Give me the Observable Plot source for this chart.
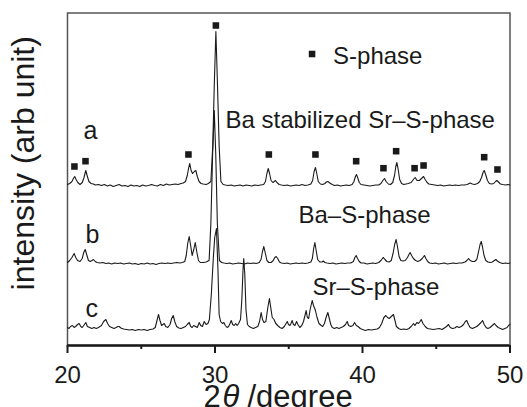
<!DOCTYPE html>
<html><head><meta charset="utf-8">
<script src="https://cdn.jsdelivr.net/npm/d3@7"></script>
<script src="https://cdn.jsdelivr.net/npm/@observablehq/plot@0.6"></script>
<style>
body{margin:0;background:#fff}
svg{display:block}
g[aria-label="phase-label"] text{letter-spacing:0.5px}
</style>
</head><body><div id="chart"></div>
<script>
// [2theta, intensity above the trace baseline]
const traceA = [
[20.0,1],[20.15,2],[20.3,4],[20.4,7],[20.49,9],[20.58,6],[20.7,3],[20.85,1],[21.0,3],[21.12,8],[21.24,15],[21.33,10],[21.45,4],[21.6,2],[21.75,1.5],[21.9,0.5],[22.1,1],[22.3,0],[22.5,1],[22.7,-0.5],[22.9,0.5],[23.1,-1],[23.3,0],[23.5,1],[23.7,-0.5],[23.9,0],[24.1,-1],[24.3,0.5],[24.5,-0.5],[24.7,0],[24.9,-1],[25.1,0.5],[25.3,-0.5],[25.5,0],[25.7,1],[25.9,0],[26.1,-0.5],[26.3,1],[26.5,0],[26.7,1.5],[26.9,0.5],[27.1,1],[27.3,1.5],[27.5,1],[27.7,2],[27.85,2.5],[28.0,4],[28.12,10],[28.22,18],[28.29,22],[28.38,15],[28.48,12],[28.6,14],[28.7,15],[28.8,9],[28.92,4],[29.05,2],[29.2,1.5],[29.4,1],[29.55,2],[29.72,4],[29.85,40],[29.95,100],[30.06,154],[30.17,100],[30.28,40],[30.4,4],[30.55,1],[30.7,0.5],[30.9,0],[31.1,0.5],[31.3,-0.5],[31.5,0],[31.7,0.5],[31.9,-0.5],[32.1,0.5],[32.3,0],[32.5,-0.5],[32.7,0.5],[32.9,0],[33.1,0.5],[33.3,1],[33.42,4],[33.52,12],[33.61,17],[33.7,12],[33.8,5],[33.92,3],[34.02,4],[34.1,5],[34.2,3],[34.35,1],[34.5,0.5],[34.7,0],[34.9,0.5],[35.1,-0.5],[35.3,0],[35.5,0.5],[35.7,0],[35.9,1],[36.1,0],[36.3,0.5],[36.5,1.5],[36.62,5],[36.72,14],[36.81,18],[36.9,12],[37.0,4],[37.15,1.5],[37.3,1],[37.45,2],[37.55,3.5],[37.65,4],[37.78,2.5],[37.95,1],[38.1,0],[38.3,0.5],[38.5,-0.5],[38.7,0],[38.9,0.5],[39.1,0],[39.3,1],[39.42,4],[39.52,9],[39.59,11],[39.67,8],[39.78,3],[39.9,1],[40.1,0.5],[40.3,0],[40.5,-0.5],[40.7,0],[40.9,0.5],[41.1,0.5],[41.25,2],[41.38,5],[41.49,7],[41.6,4],[41.75,1.5],[41.9,1],[42.05,3],[42.17,10],[42.26,19],[42.33,23],[42.42,16],[42.52,6],[42.65,2],[42.8,1],[42.95,1.5],[43.1,2],[43.3,3],[43.45,6],[43.57,8],[43.7,5],[43.85,5],[44.0,7],[44.14,9],[44.25,6],[44.38,3],[44.5,1.5],[44.7,1],[44.9,0.5],[45.1,0],[45.3,0.5],[45.5,-0.5],[45.7,0],[45.9,0.5],[46.1,0],[46.3,0.5],[46.5,0],[46.7,0.5],[46.9,0.5],[47.1,1],[47.3,2.5],[47.45,1.5],[47.6,1],[47.8,2],[47.95,4],[48.07,8],[48.17,13],[48.25,15],[48.35,11],[48.47,5],[48.6,2],[48.75,1.5],[48.9,2],[49.02,4],[49.11,5],[49.22,3.5],[49.35,1.5],[49.5,1],[49.7,0.5],[49.85,1],[50.0,0.5]
];
const traceB = [
[20.0,1],[20.15,3],[20.3,6],[20.45,10],[20.56,6],[20.68,3],[20.85,2],[21.0,5],[21.1,11],[21.2,14],[21.3,9],[21.42,3],[21.55,2],[21.66,3],[21.76,4],[21.88,2],[22.0,1],[22.2,0.5],[22.4,1],[22.6,0],[22.8,0.5],[23.0,-0.5],[23.2,0.5],[23.4,0],[23.6,0.5],[23.8,-0.5],[24.0,0],[24.2,0.5],[24.4,-0.5],[24.6,0],[24.8,-1],[25.0,0],[25.2,-0.5],[25.4,0.5],[25.6,-0.5],[25.8,0],[26.0,-1],[26.2,0],[26.4,0.5],[26.6,0],[26.8,0.5],[27.0,0],[27.2,0.5],[27.4,1],[27.6,0.5],[27.8,1],[27.95,2],[28.05,8],[28.15,20],[28.25,27],[28.35,18],[28.45,8],[28.56,14],[28.66,21],[28.76,12],[28.88,3],[29.0,1],[29.2,1],[29.4,1.5],[29.6,3],[29.72,40],[29.84,110],[29.95,153],[30.05,110],[30.16,40],[30.3,3],[30.45,1],[30.6,0.5],[30.8,0],[31.0,0.5],[31.2,-0.5],[31.4,0],[31.6,0.5],[31.8,0],[32.0,-0.5],[32.2,0.5],[32.4,0],[32.6,0.5],[32.8,0],[33.0,1],[33.12,4],[33.22,12],[33.31,17],[33.4,11],[33.52,3],[33.65,1],[33.8,1],[33.95,3],[34.05,6],[34.15,7],[34.25,5],[34.37,1.5],[34.5,0.5],[34.7,0],[34.9,0.5],[35.1,-0.5],[35.3,0],[35.5,0.5],[35.7,0],[35.9,0.5],[36.1,0],[36.3,0.5],[36.5,1.5],[36.6,5],[36.69,15],[36.77,21],[36.86,13],[36.96,4],[37.1,1.5],[37.25,1.5],[37.34,2.5],[37.45,1],[37.6,0.5],[37.8,0],[38.0,0.5],[38.2,-0.5],[38.4,0],[38.6,0.5],[38.8,0],[39.0,0.5],[39.2,0.5],[39.38,2],[39.48,6],[39.57,8],[39.66,5],[39.78,2],[39.9,0.5],[40.1,0.5],[40.3,-0.5],[40.5,0],[40.7,0.5],[40.9,0],[41.1,1],[41.25,3],[41.35,5],[41.42,6],[41.52,4],[41.65,2],[41.8,1.5],[41.95,3],[42.07,10],[42.18,19],[42.28,24],[42.37,17],[42.48,7],[42.6,3],[42.75,2.5],[42.9,3],[43.05,6],[43.15,9],[43.23,11],[43.33,8],[43.45,5],[43.6,3],[43.75,2],[43.9,3],[44.05,5],[44.2,8],[44.3,5],[44.42,2],[44.55,0.5],[44.75,0],[44.95,0.5],[45.15,-0.5],[45.35,0],[45.55,0.5],[45.75,-0.5],[45.95,0],[46.15,0.5],[46.35,0],[46.55,0.5],[46.75,0.5],[46.95,1.5],[47.08,3],[47.19,5],[47.3,3],[47.45,2],[47.6,2],[47.75,4],[47.87,12],[47.97,19],[48.05,22],[48.13,17],[48.24,8],[48.36,3],[48.5,1.5],[48.65,1],[48.8,1.5],[48.94,3],[49.04,4],[49.15,2.5],[49.3,1],[49.5,0],[49.7,0.5],[49.85,0],[50.0,0.5]
];
const traceC = [
[20.0,2],[20.1,1],[20.2,3],[20.34,4],[20.45,2],[20.55,3],[20.68,5],[20.79,6],[20.9,3],[21.0,2],[21.1,4],[21.24,7],[21.35,3],[21.5,2],[21.65,1],[21.8,2],[21.95,1],[22.1,2],[22.3,4],[22.45,8],[22.6,10],[22.72,6],[22.85,3],[23.0,2],[23.15,1],[23.3,2],[23.42,3],[23.5,3],[23.62,1.5],[23.8,0.5],[24.0,0],[24.2,-0.5],[24.4,0],[24.6,-1],[24.8,0],[25.0,-0.5],[25.2,0],[25.4,-1],[25.6,0],[25.8,0.5],[25.95,2],[26.05,8],[26.17,15],[26.27,9],[26.38,4],[26.47,5],[26.56,6],[26.66,3],[26.8,2],[26.95,5],[27.06,11],[27.17,14],[27.27,8],[27.4,3],[27.55,1.5],[27.7,1],[27.85,2],[28.0,3],[28.12,5],[28.25,7],[28.35,3],[28.45,2],[28.55,4],[28.68,3],[28.8,2],[28.93,7],[29.03,4],[29.15,3],[29.27,8],[29.4,5],[29.52,6],[29.62,10],[29.75,35],[29.88,70],[29.98,92],[30.1,101],[30.2,60],[30.28,15],[30.38,8],[30.5,6],[30.6,7],[30.7,4],[30.82,2],[30.92,3],[31.02,6],[31.1,9],[31.2,5],[31.3,4],[31.4,6],[31.5,4],[31.6,6],[31.73,10],[31.82,30],[31.9,60],[31.95,71],[32.02,55],[32.1,20],[32.2,5],[32.32,3],[32.45,2],[32.6,1],[32.75,2],[32.9,3],[33.02,8],[33.13,17],[33.22,10],[33.32,7],[33.45,8],[33.58,22],[33.69,31],[33.78,22],[33.88,12],[34.0,10],[34.12,6],[34.25,4],[34.4,2],[34.55,1],[34.7,3],[34.82,6],[34.9,8],[34.98,5],[35.08,4],[35.15,6],[35.23,9],[35.32,5],[35.42,4],[35.53,8],[35.62,5],[35.75,2],[35.88,4],[36.0,8],[36.1,14],[36.18,19],[36.26,12],[36.35,11],[36.45,20],[36.59,29],[36.68,24],[36.81,19],[36.92,12],[37.05,6],[37.2,4],[37.3,3],[37.42,6],[37.53,12],[37.65,17],[37.75,11],[37.85,5],[37.95,2],[38.1,1],[38.25,2],[38.4,1],[38.55,2],[38.7,3],[38.85,5],[38.96,8],[39.06,4],[39.2,3],[39.35,4],[39.46,7],[39.58,4],[39.7,3],[39.85,1],[40.0,0],[40.2,-1],[40.4,0],[40.6,-0.5],[40.8,0],[41.0,0.5],[41.15,2],[41.3,6],[41.45,12],[41.58,14],[41.7,12],[41.81,11],[41.95,13],[42.1,15],[42.2,9],[42.3,3],[42.45,1],[42.6,0],[42.8,0.5],[43.0,0],[43.15,1],[43.3,3],[43.46,6],[43.56,4],[43.68,7],[43.8,6],[43.9,8],[43.98,10],[44.1,6],[44.25,3],[44.4,1],[44.6,0.5],[44.8,0],[45.0,0.5],[45.2,1],[45.4,0],[45.55,1.5],[45.7,3],[45.83,5],[45.95,2],[46.1,1],[46.25,1.5],[46.4,3],[46.55,2],[46.7,3],[46.85,5],[46.97,8],[47.07,9],[47.18,5],[47.3,2],[47.45,1],[47.6,2],[47.75,3],[47.9,5],[48.03,7],[48.14,9],[48.25,5],[48.38,2],[48.5,1],[48.65,2],[48.8,4],[48.95,6],[49.05,4],[49.2,2],[49.35,1],[49.5,0],[49.65,1],[49.8,2],[49.9,4],[50.0,5]
];
const traceNames = ["a", "b", "c"];
const traceOffsets = [160, 82, 16];
const phaseNames = ["Ba stabilized Sr\u2013S-phase", "Ba\u2013S-phase", "Sr\u2013S-phase"];

// S-phase markers on trace a
const squareTheta = [20.47, 21.22, 28.2, 30.06, 33.65, 36.81, 39.57, 41.42, 42.28, 43.53, 44.14, 48.25, 49.15];
const squareIntensity = [179, 184.3, 191, 320, 191, 191, 184.3, 177.3, 194.3, 177.3, 180, 188.3, 176];

const legendLabel = "S-phase";
const majorTicks = [20, 30, 40, 50];
const minorTicks = [25, 35, 45];

// annotation anchor points (2theta, intensity)
const traceLabelPos = [[21.08, 207], [21.22, 103], [21.22, 29]];
const phaseLabelPos = [[30.71, 217.7], [35.66, 123], [36.61, 51]];
const legendPos = [36.58, 291.5];

const lines = [traceA, traceB, traceC].map((t, i) => t.map(([th, v]) => ({theta: th, intensity: v + traceOffsets[i], trace: traceNames[i]})));
const squares = squareTheta.map((t, i) => ({theta: t, intensity: squareIntensity[i]}));
const traceLabels = traceNames.map((n, i) => ({theta: traceLabelPos[i][0], intensity: traceLabelPos[i][1], text: n}));
const phaseLabels = phaseNames.map((n, i) => ({theta: phaseLabelPos[i][0], intensity: phaseLabelPos[i][1], text: n}));

const font = "'Liberation Sans', Arial, Helvetica, sans-serif";
const ink = "#1a1a1a";

const chart = Plot.plot({
  width: 527, height: 407,
  marginLeft: 67, marginRight: 17.5, marginTop: 12.5, marginBottom: 62,
  x: {domain: [20, 50]},
  y: {domain: [0, 332.5], axis: null},
  style: {fontFamily: font, background: "#fff", color: ink},
  marks: [
    Plot.frame({stroke: "#555", strokeWidth: 1.5}),
    ...lines.map(L => Plot.line(L, {x: "theta", y: "intensity", stroke: ink, strokeWidth: 1.1})),
    Plot.ruleY([0], {stroke: ink, strokeWidth: 2.5}),
    Plot.axisX({ticks: majorTicks, tickSize: 8, tickPadding: 12, fontSize: 24, strokeWidth: 2, label: null, tickFormat: d => String(d)}),
    Plot.axisX({ticks: minorTicks, tickSize: 4, strokeWidth: 2, label: null, tickFormat: () => ""}),
    Plot.dot(squares, {x: "theta", y: "intensity", symbol: "square", r: 3.7, fill: ink, stroke: null}),
    Plot.dot([legendPos], {x: d => d[0], y: d => d[1], symbol: "square", r: 3.7, fill: ink, stroke: null}),
    Plot.text([legendPos], {x: d => d[0], y: d => d[1], text: () => legendLabel, dx: 21, dy: 10, textAnchor: "start", lineAnchor: "bottom", fontSize: 24, fill: ink, ariaLabel: "phase-label"}),
    Plot.text(traceLabels, {x: "theta", y: "intensity", text: "text", textAnchor: "start", lineAnchor: "bottom", fontSize: 25, fill: ink}),
    Plot.text(phaseLabels, {x: "theta", y: "intensity", text: "text", textAnchor: "start", lineAnchor: "bottom", fontSize: 24, fill: ink, ariaLabel: "phase-label"}),
    Plot.text(["intensity (arb unit)"], {frameAnchor: "left", text: d => d, rotate: -90, textAnchor: "middle", dx: -44, dy: -16, fontSize: 32, fill: ink}),
    Plot.text(["2"], {frameAnchor: "bottom-left", text: d => d, dx: 136, dy: 61, textAnchor: "start", lineAnchor: "bottom", fontSize: 31, fill: ink}),
    Plot.text(["\u03b8"], {frameAnchor: "bottom-left", text: d => d, dx: 155, dy: 61, textAnchor: "start", lineAnchor: "bottom", fontSize: 31, fontStyle: "italic", fill: ink}),
    Plot.text(["/degree"], {frameAnchor: "bottom-left", text: d => d, dx: 180, dy: 61, textAnchor: "start", lineAnchor: "bottom", fontSize: 31, fill: ink})
  ]
});
document.getElementById("chart").appendChild(chart);
</script>
</body></html>
